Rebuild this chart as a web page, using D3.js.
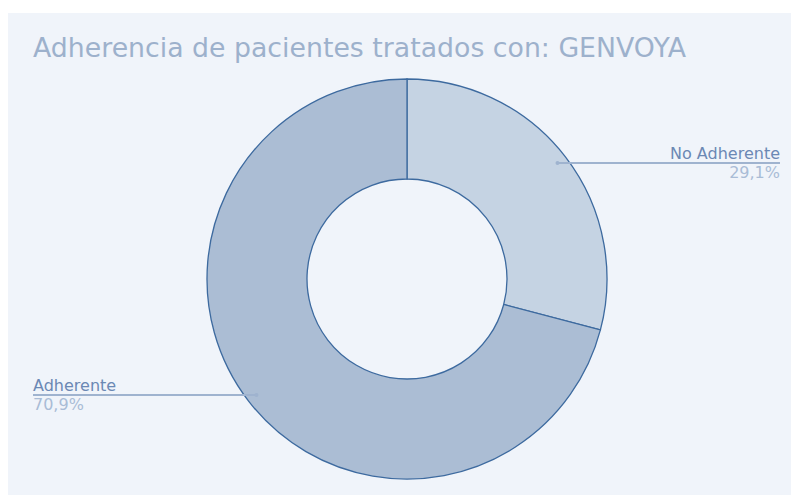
<!DOCTYPE html>
<html lang="en">
<head>
<meta charset="UTF-8">
<title>Adherencia GENVOYA</title>
<script src="https://d3js.org/d3.v7.min.js"></script>
<style>
  body { margin: 0; background: #ffffff; }
  text { font-family: "DejaVu Sans", Verdana, sans-serif; }
</style>
</head>
<body>
<div id="chart"></div>
<script>
// data
var labels = ["No Adherente", "Adherente"];
var values = [29.1, 70.9];
var fills = ["#c5d3e3", "#abbdd4"];

var width = 791, height = 495;
var cx = 407, cy = 279, rOut = 200, rIn = 100;

var svg = d3.select("#chart").append("svg")
  .attr("width", width)
  .attr("height", height);

// panel background
svg.append("rect")
  .attr("x", 8).attr("y", 13)
  .attr("width", 783).attr("height", 482)
  .attr("fill", "#f0f4fa");

// title
svg.append("text")
  .attr("x", 33).attr("y", 57)
  .attr("font-size", "26px")
  .attr("textLength", 653)
  .attr("lengthAdjust", "spacingAndGlyphs")
  .attr("fill", "#9db1cc")
  .text("Adherencia de pacientes tratados con: GENVOYA");

var pie = d3.pie().sort(null).value(function(d) { return d; });
var arcs = pie(values);
var arc = d3.arc().innerRadius(rIn).outerRadius(rOut);

var g = svg.append("g").attr("transform", "translate(" + cx + "," + cy + ")");

g.selectAll("path")
  .data(arcs)
  .enter()
  .append("path")
    .attr("d", arc)
    .attr("fill", function(d, i) { return fills[i]; })
    .attr("stroke", "#3d6a9f")
    .attr("stroke-width", 1.3);

// outside labels with leader lines
var labelArc = d3.arc().innerRadius(rOut * 0.95).outerRadius(rOut * 0.95);
var fmt = function(v) { return v.toFixed(1).replace(".", ",") + "%"; };

arcs.forEach(function(d, i) {
  var c = labelArc.centroid(d);
  var px = cx + c[0], py = cy + c[1];
  var right = c[0] > 0;
  var ex = right ? 780 : 33;
  svg.append("line")
    .attr("x1", px).attr("y1", py)
    .attr("x2", ex).attr("y2", py)
    .attr("stroke", "#9fb3cf")
    .attr("stroke-width", 2);
  svg.append("circle")
    .attr("cx", px).attr("cy", py).attr("r", 2)
    .attr("fill", "#9fb3cf");
  svg.append("text")
    .attr("x", ex).attr("y", py - 4)
    .attr("text-anchor", right ? "end" : "start")
    .attr("font-size", "16px")
    .attr("fill", "#6b88b4")
    .text(labels[i]);
  svg.append("text")
    .attr("x", ex).attr("y", py + 15)
    .attr("text-anchor", right ? "end" : "start")
    .attr("font-size", "16px")
    .attr("fill", "#a9bcd6")
    .text(fmt(values[i]));
});
</script>
</body>
</html>
